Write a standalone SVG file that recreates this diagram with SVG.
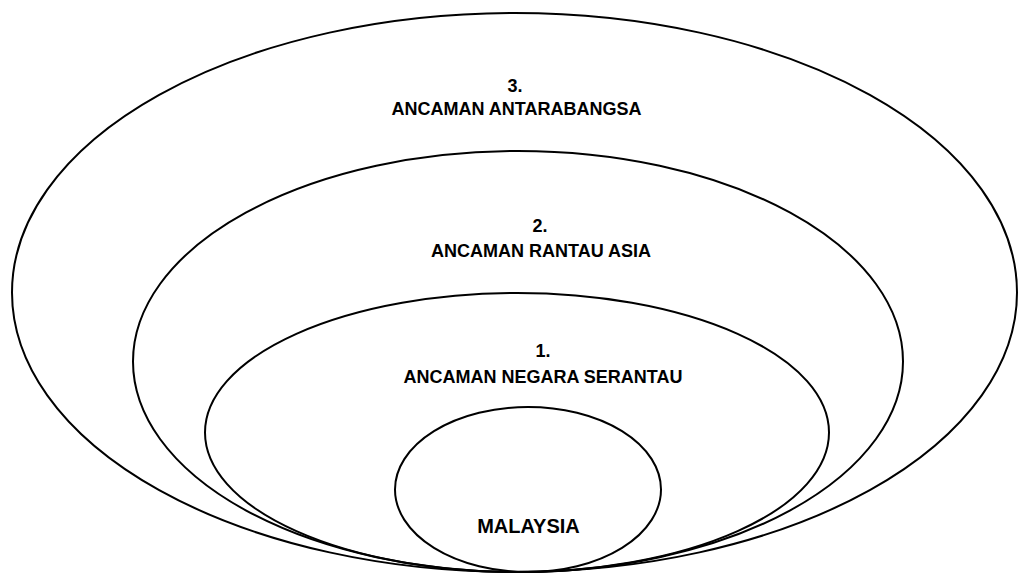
<svg xmlns="http://www.w3.org/2000/svg" width="1019" height="574" viewBox="0 0 1019 574">
<style>
.ring{fill:none;stroke:#000;stroke-width:2}
.lbl{font-family:"Liberation Sans",Arial,sans-serif;font-weight:bold;font-size:18px;fill:#000;text-anchor:middle}
.big{font-size:20px}
</style>
<rect width="1019" height="574" fill="#fff"/>
<g id="ring3">
<ellipse class="ring" cx="514.5" cy="292.5" rx="502.5" ry="279.5"/>
<text class="lbl" x="515" y="92">3.</text>
<text class="lbl" x="516.5" y="115">ANCAMAN ANTARABANGSA</text>
</g>
<g id="ring2">
<ellipse class="ring" cx="518" cy="361.5" rx="385" ry="210.5"/>
<text class="lbl" x="540" y="232">2.</text>
<text class="lbl" x="541" y="257">ANCAMAN RANTAU ASIA</text>
</g>
<g id="ring1">
<ellipse class="ring" cx="517" cy="432.5" rx="312" ry="139.5"/>
<text class="lbl" x="543" y="357">1.</text>
<text class="lbl" x="543" y="383">ANCAMAN NEGARA SERANTAU</text>
</g>
<g id="malaysia">
<ellipse class="ring" cx="528" cy="489.5" rx="133" ry="82.5"/>
<text class="lbl big" x="528.5" y="533">MALAYSIA</text>
</g>
<g id="connectors"/>
</svg>
